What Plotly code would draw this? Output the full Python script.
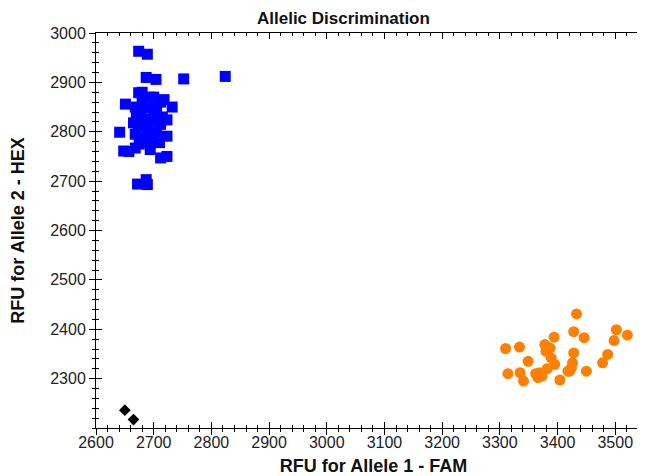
import plotly.graph_objects as go

# Allele 2 homozygous (blue squares)
blue_x = [2674, 2689, 2687, 2704, 2752, 2824, 2651, 2674, 2718, 2732, 2723, 2641, 2723,
          2648, 2657, 2668, 2694, 2712, 2723, 2672, 2687, 2689,
          2680, 2700, 2712, 2668, 2678, 2695, 2705, 2670, 2685, 2700, 2712, 2673, 2690,
          2705, 2668, 2680, 2698, 2710, 2675, 2690, 2700, 2680, 2715, 2665, 2695]
blue_y = [2963, 2957, 2910, 2906, 2907, 2912, 2856, 2879, 2865, 2850, 2824, 2799, 2791,
          2761, 2760, 2767, 2764, 2747, 2750, 2694, 2703, 2693,
          2880, 2870, 2860, 2850, 2845, 2848, 2840, 2830, 2825, 2822, 2815, 2810, 2805,
          2800, 2795, 2788, 2785, 2778, 2775, 2780, 2835, 2862, 2830, 2818, 2870]

# Allele 1 homozygous (orange circles)
orange_x = [3310, 3334, 3378, 3387, 3394, 3349, 3314, 3335, 3341, 3362, 3369, 3366, 3373,
            3389, 3395, 3404, 3421, 3433, 3428, 3446, 3428, 3426, 3418, 3424, 3450, 3487,
            3478, 3498, 3502, 3521, 3380, 3382]
orange_y = [2361, 2364, 2369, 2362, 2384, 2335, 2310, 2312, 2295, 2310, 2312, 2302, 2305,
            2342, 2329, 2297, 2315, 2431, 2395, 2383, 2352, 2332, 2315, 2322, 2315, 2349,
            2332, 2377, 2399, 2388, 2355, 2320]

# No template control (black diamonds)
ntc_x = [2650, 2665]
ntc_y = [2236, 2217]

title_text = "Allelic Discrimination"
x_title = "RFU for Allele 1 - FAM"
y_title = "RFU for Allele 2 - HEX"

x_range = [2600, 3562]
y_range = [2200, 3000]
x_ticks = [2600, 2700, 2800, 2900, 3000, 3100, 3200, 3300, 3400, 3500]
y_ticks = [2300, 2400, 2500, 2600, 2700, 2800, 2900, 3000]

fig = go.Figure()
fig.add_trace(go.Scatter(x=blue_x, y=blue_y, mode="markers",
                         marker=dict(symbol="square", size=11, color="#0000ff",
                                     line=dict(width=0)), showlegend=False))
fig.add_trace(go.Scatter(x=orange_x, y=orange_y, mode="markers",
                         marker=dict(symbol="circle", size=11, color="#ff8000",
                                     line=dict(width=0)), showlegend=False))
fig.add_trace(go.Scatter(x=ntc_x, y=ntc_y, mode="markers",
                         marker=dict(symbol="diamond", size=9, color="#000000",
                                     line=dict(width=0)), showlegend=False))
# helper trace for the overlay axes carrying the other half of the ticks
fig.add_trace(go.Scatter(x=[None], y=[None], xaxis="x2", yaxis="y2",
                         mode="markers", showlegend=False, hoverinfo="skip"))

FONT = "Liberation Sans, Arial, sans-serif"
tickfont = dict(family=FONT, size=16, color="#222222")
titlefont = dict(family=FONT, size=18, color="#111111")

common = dict(showgrid=False, zeroline=False, showline=True, linecolor="black",
              linewidth=1, automargin=False)

fig.update_layout(
    width=645, height=476,
    margin=dict(l=88, r=2, t=25, b=56),
    paper_bgcolor="white", plot_bgcolor="white",
    # bottom axis: labels + inside ticks (mirrored to top)
    xaxis=dict(range=x_range, tickmode="array", tickvals=x_ticks, ticks="inside",
               ticklen=6, tickcolor="black", tickfont=tickfont, ticklabelstandoff=0,
               minor=dict(tickmode="linear", tick0=2600, dtick=20, ticks="inside",
                          ticklen=3, tickcolor="black"),
               title=dict(text="<b>" + x_title + "</b>", font=titlefont, standoff=9),
               mirror="ticks", **common),
    # left axis: labels + outside ticks
    yaxis=dict(range=y_range, tickmode="array", tickvals=y_ticks, ticks="outside",
               ticklen=6, tickcolor="black", tickfont=tickfont,
               minor=dict(tickmode="linear", tick0=2200, dtick=20, ticks="outside",
                          ticklen=3, tickcolor="black"),
               title=dict(text="<b>" + y_title + "</b>", font=titlefont, standoff=26),
               mirror=True, **common),
    # overlay x: outside half of the bottom ticks only
    xaxis2=dict(range=x_range, tickmode="array", tickvals=x_ticks, ticks="outside",
                ticklen=6, tickcolor="black", showticklabels=False, overlaying="x",
                anchor="y2",
                minor=dict(tickmode="linear", tick0=2600, dtick=20, ticks="outside",
                           ticklen=3, tickcolor="black"),
                mirror=False, **common),
    # overlay y: inside ticks on left, mirrored to right
    yaxis2=dict(range=y_range, tickmode="array", tickvals=y_ticks, ticks="inside",
                ticklen=6, tickcolor="black", showticklabels=False, overlaying="y",
                anchor="x2",
                minor=dict(tickmode="linear", tick0=2200, dtick=20, ticks="inside",
                           ticklen=3, tickcolor="black"),
                mirror="ticks", **common),
)

# chart title placed just above the plot frame
fig.add_annotation(text="<b>" + title_text + "</b>", xref="paper", yref="paper",
                   x=(335 - 88) / 555, y=1 + (25 - 10.5) / 395,
                   xanchor="center", yanchor="middle", showarrow=False,
                   font=dict(family=FONT, size=17, color="#111111"))

fig.write_html("out.html")
